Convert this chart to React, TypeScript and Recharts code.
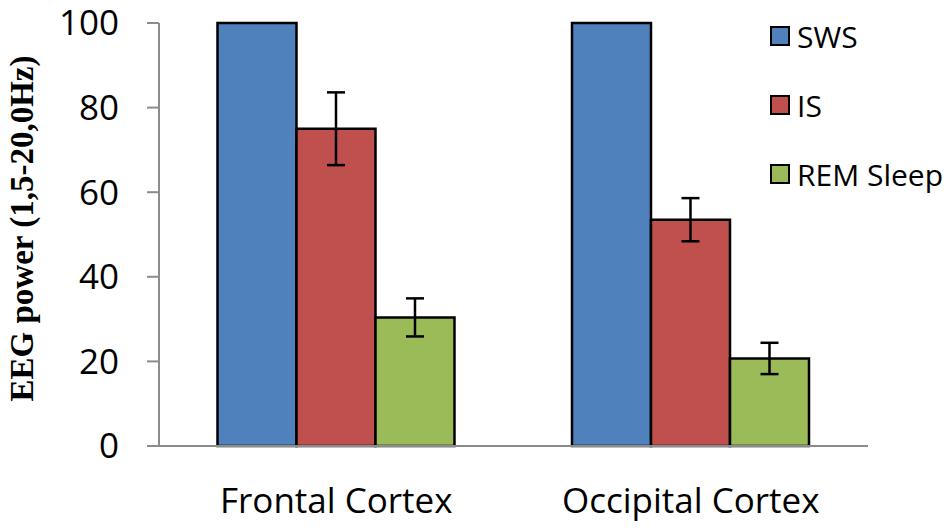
import { BarChart, Bar, XAxis, YAxis, ErrorBar, Label } from 'recharts'

// EEG power per sleep stage, two cortical regions (SWS normalised to 100).
const regions = ['Frontal Cortex', 'Occipital Cortex']
const swsValues = [100, 100]
const isValues = [75, 53.5]
const isErrors = [8.6, 5.1]
const remValues = [30.4, 20.7]
const remErrors = [4.5, 3.7]
const yTicks = [0, 20, 40, 60, 80, 100]
const edgeTicks = [0, 1, 2]
const yLabel = 'EEG power (1,5-20,0Hz)'

const SERIES = [
  { key: 'sws', name: 'SWS', color: '#4F81BD' },
  { key: 'is', name: 'IS', color: '#C0504D' },
  { key: 'rem', name: 'REM Sleep', color: '#9BBB59' },
]

const data = regions.map((region, i) => ({
  region,
  sws: swsValues[i],
  is: isValues[i],
  isErr: isErrors[i],
  rem: remValues[i],
  remErr: remErrors[i],
}))

const FONT = '"Open Sans", sans-serif'
const AXIS_GRAY = '#8c8c8c'

function SideLegend() {
  return (
    <div style={{ position: 'absolute', left: 770, top: 19, fontFamily: FONT, fontSize: 30, color: '#000' }}>
      {SERIES.map((s) => (
        <div key={s.key} style={{ display: 'flex', alignItems: 'center', height: 34, marginBottom: 35 }}>
          <span style={{ width: 16, height: 16, background: s.color, border: '2px solid #000', marginRight: 7 }} />
          <span>{s.name}</span>
        </div>
      ))}
    </div>
  )
}

export default function App() {
  return (
    <div style={{ position: 'absolute', left: 0, top: 0, width: 950, height: 530, background: '#fff' }}>
      <BarChart width={950} height={530} data={data} margin={{ top: 23, right: 82, bottom: 0, left: 0 }}
        barCategoryGap="16.5%" barGap={0}>
        {/* axis line + boundary ticks between the categories */}
        <XAxis xAxisId={0} type="number" domain={[0, 2]} ticks={edgeTicks} tick={false} height={1}
          tickSize={13} stroke={AXIS_GRAY} strokeWidth={2} />
        <XAxis xAxisId={1} dataKey="region" height={83} tickLine={false} axisLine={false} tickSize={0} tickMargin={41}
          tick={{ fill: '#000', fontSize: 35, fontFamily: FONT }} />
        <YAxis width={159} domain={[0, 100]} ticks={yTicks} tickSize={12} tickMargin={28}
          stroke={AXIS_GRAY} strokeWidth={2} tick={{ fill: '#000', fontSize: 35, fontFamily: FONT }}>
          <Label content={({ viewBox }: any) => (
            <text x={viewBox.x + 22} y={viewBox.y + viewBox.height / 2 - 6} transform={`rotate(-90 ${viewBox.x + 22} ${viewBox.y + viewBox.height / 2 - 6})`}
              textAnchor="middle" dominantBaseline="central" fontFamily='"Liberation Serif", serif' fontWeight="bold" fontSize={33} fill="#000">
              {yLabel}
            </text>
          )} />
        </YAxis>
        <Bar xAxisId={1} dataKey="sws" name="SWS" fill={SERIES[0].color} stroke="#000" strokeWidth={2.5} isAnimationActive={false} />
        <Bar xAxisId={1} dataKey="is" name="IS" fill={SERIES[1].color} stroke="#000" strokeWidth={2.5} isAnimationActive={false}>
          <ErrorBar dataKey="isErr" width={9} stroke="#000" strokeWidth={2.5} />
        </Bar>
        <Bar xAxisId={1} dataKey="rem" name="REM Sleep" fill={SERIES[2].color} stroke="#000" strokeWidth={2.5} isAnimationActive={false}>
          <ErrorBar dataKey="remErr" width={9} stroke="#000" strokeWidth={2.5} />
        </Bar>
      </BarChart>
      <SideLegend />
    </div>
  )
}
